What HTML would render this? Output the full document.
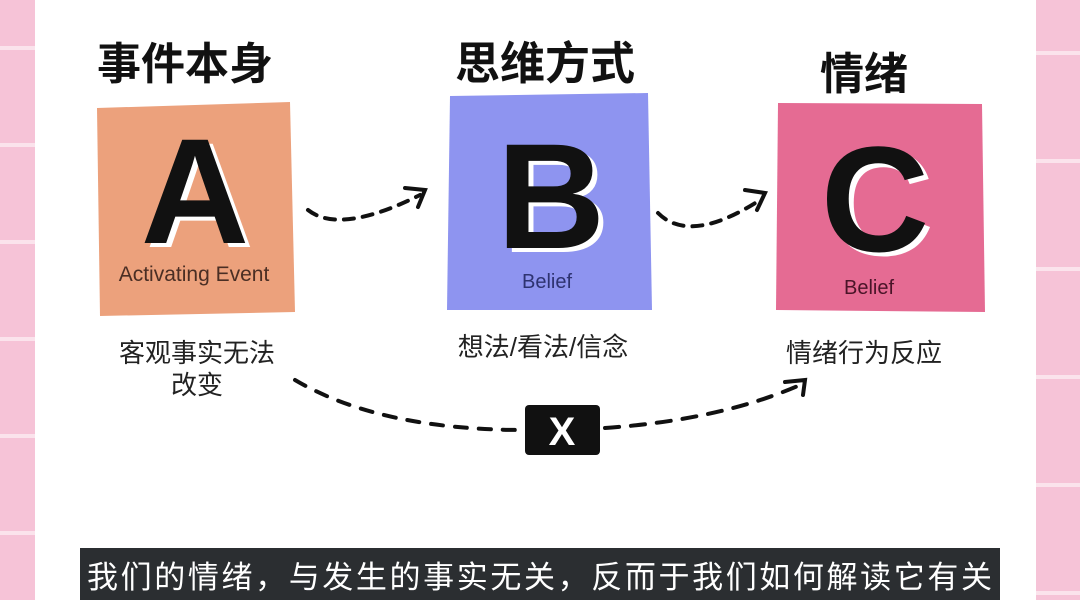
<!DOCTYPE html>
<html><head><meta charset="utf-8"><style>
html,body{margin:0;padding:0;width:1080px;height:600px;overflow:hidden;background:#fff}
svg{display:block}
text{font-family:"Liberation Sans","Noto Sans CJK SC",sans-serif}
</style></head><body>
<svg width="1080" height="600" viewBox="0 0 1080 600" xmlns="http://www.w3.org/2000/svg">
<defs>
<pattern id="gridL" width="40" height="97" patternUnits="userSpaceOnUse" y="-47">
<rect width="40" height="97" fill="#f6c3d7"/>
<rect y="93" width="40" height="4" fill="#fbe3ec"/>
</pattern>
<pattern id="gridR" width="50" height="108" patternUnits="userSpaceOnUse" y="-1" x="1036">
<rect width="50" height="108" fill="#f6c3d7"/>
<rect y="52" width="50" height="4" fill="#fbe3ec"/>
</pattern>
</defs>
<rect x="0" y="0" width="35" height="600" fill="url(#gridL)"/>
<rect x="1036" y="0" width="44" height="600" fill="url(#gridR)"/>
<rect x="35" y="0" width="1001" height="600" fill="#ffffff"/>

<!-- titles -->
<text x="185" y="79" font-size="44" font-weight="bold" text-anchor="middle" fill="#111" font-family="Noto Sans CJK SC,sans-serif">事件本身</text>
<text x="545" y="79" font-size="45" font-weight="bold" text-anchor="middle" fill="#111" font-family="Noto Sans CJK SC,sans-serif">思维方式</text>
<text x="864" y="89" font-size="44" font-weight="bold" text-anchor="middle" fill="#111" font-family="Noto Sans CJK SC,sans-serif">情绪</text>

<!-- boxes -->
<path d="M97,108 L290,102 L295,312 L100,316 Z" fill="#eca17c"/>
<path d="M450,96 L648,93 L652,310 L447,310 Z" fill="#8e94f0"/>
<path d="M778,103 L982,104 L985,312 L776,310 Z" fill="#e56b93"/>

<!-- letters -->
<g font-family="Liberation Sans,sans-serif" font-weight="bold" font-size="150" text-anchor="middle">
<text x="200" y="247" fill="#fff">A</text>
<text x="195" y="243" fill="#111">A</text>
<text x="556" y="252" fill="#fff">B</text>
<text x="551" y="248" fill="#111">B</text>
<text x="880" y="255" fill="#fff">C</text>
<text x="875" y="251" fill="#111">C</text>
</g>
<text x="194" y="281" font-size="21" text-anchor="middle" fill="#4a2e24">Activating Event</text>
<text x="547" y="288" font-size="20" text-anchor="middle" fill="#2e3370">Belief</text>
<text x="869" y="294" font-size="20" text-anchor="middle" fill="#4a1428">Belief</text>

<!-- sub labels -->
<text x="197" y="362" font-size="26" text-anchor="middle" fill="#222">客观事实无法</text>
<text x="197" y="394" font-size="26" text-anchor="middle" fill="#222">改变</text>
<text x="543" y="356" font-size="26" text-anchor="middle" fill="#222">想法/看法/信念</text>
<text x="864" y="362" font-size="26" text-anchor="middle" fill="#222">情绪行为反应</text>

<!-- arrows -->
<g fill="none" stroke="#111" stroke-width="4" stroke-linecap="round">
<path d="M308,210 Q340,235 420,195" stroke-dasharray="10 9"/>
<path d="M405,188 L425,190 L418,207"/>
<path d="M658,213 Q690,245 760,200" stroke-dasharray="10 9"/>
<path d="M745,190 L765,193 L757,210"/>
<path d="M295,380 Q380,430 525,430" stroke-dasharray="12 12"/>
<path d="M605,428 Q720,420 800,385" stroke-dasharray="14 12"/>
<path d="M785,382 L805,380 L803,395"/>
</g>
<rect x="525" y="405" width="75" height="50" rx="4" fill="#111"/>
<text x="562" y="445" font-size="40" font-weight="bold" text-anchor="middle" fill="#fff">X</text>

<!-- caption -->
<rect x="80" y="548" width="920" height="52" fill="#2b2e31"/>
<text x="87" y="588" font-size="31" textLength="905" lengthAdjust="spacing" fill="#fff" font-family="Noto Sans CJK SC,sans-serif">我们的情绪，与发生的事实无关，反而于我们如何解读它有关</text>
</svg>
</body></html>
